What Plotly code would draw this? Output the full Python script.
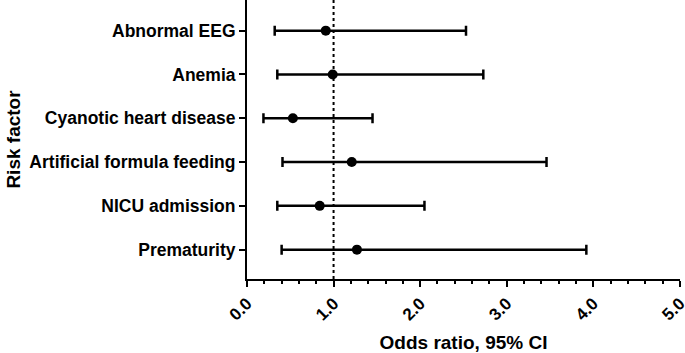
import plotly.graph_objects as go

factors = ["Prematurity", "NICU admission", "Artificial formula feeding",
           "Cyanotic heart disease", "Anemia", "Abnormal EEG"]
odds_ratio = [1.27, 0.84, 1.21, 0.53, 0.99, 0.91]
ci_low = [0.40, 0.35, 0.41, 0.19, 0.35, 0.32]
ci_high = [3.92, 2.05, 3.46, 1.45, 2.73, 2.53]
x_ticks = [0, 1, 2, 3, 4, 5]
x_tick_labels = ["0.0", "1.0", "2.0", "3.0", "4.0", "5.0"]
reference_or = 1.0

font_family = "Arial, Liberation Sans, sans-serif"

fig = go.Figure()
fig.add_trace(go.Scatter(
    x=odds_ratio,
    y=list(range(len(factors))),
    mode="markers",
    marker=dict(color="black", size=10),
    error_x=dict(
        type="data",
        symmetric=False,
        array=[h - o for h, o in zip(ci_high, odds_ratio)],
        arrayminus=[o - l for o, l in zip(odds_ratio, ci_low)],
        color="black",
        thickness=2.5,
        width=5,
    ),
    showlegend=False,
    cliponaxis=False,
))

fig.add_shape(type="line", xref="x", yref="paper",
              x0=reference_or, x1=reference_or, y0=0, y1=1,
              line=dict(color="black", width=2, dash="dot"), layer="below")

fig.update_layout(
    width=685, height=353,
    margin=dict(l=247, r=5, t=0, b=74),
    plot_bgcolor="white", paper_bgcolor="white",
    font=dict(family=font_family, color="black"),
    xaxis=dict(
        range=[0, 5.002],
        automargin=False,
        ticklabeloverflow="allow",
        tickmode="array", tickvals=x_ticks, ticktext=x_tick_labels,
        tickangle=-45,
        tickfont=dict(size=17, weight="bold", family=font_family),
        ticks="outside", ticklen=6, tickwidth=2, tickcolor="black",
        minor=dict(dtick=0.2, ticks="outside", ticklen=3, tickwidth=2, tickcolor="black", showgrid=False),
        showline=True, linecolor="black", linewidth=2,
        showgrid=False, zeroline=False,
        title=dict(text="Odds ratio, 95% CI", font=dict(size=19, weight="bold", family=font_family), standoff=12),
    ),
    yaxis=dict(
        range=[-0.67, 5.70],
        automargin=False,
        tickmode="array", tickvals=list(range(len(factors))), ticktext=factors,
        tickfont=dict(size=17.5, weight="bold", family=font_family),
        ticks="outside", ticklen=6, tickwidth=2, tickcolor="black",
        showline=True, linecolor="black", linewidth=2,
        showgrid=False, zeroline=False,
        title=dict(text="Risk factor", font=dict(size=19, weight="bold", family=font_family), standoff=4),
    ),
)

fig.write_html("out.html", config={"displayModeBar": False},
               post_script="document.body.style.margin='0px';document.body.style.overflow='hidden';")
